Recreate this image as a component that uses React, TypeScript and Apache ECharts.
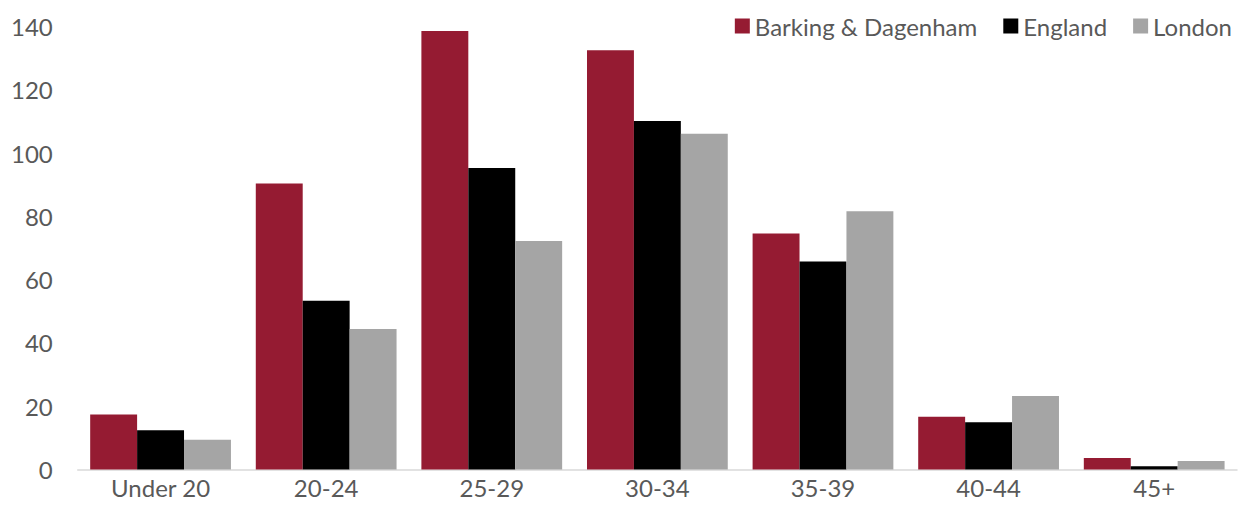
import React, { useEffect, useRef } from "react";
import * as echarts from "echarts";

const categories = ["Under 20", "20-24", "25-29", "30-34", "35-39", "40-44", "45+"];
const barkingDagenham = [17.4, 90.4, 138.6, 132.5, 74.6, 16.7, 3.6];
const england = [12.4, 53.3, 95.3, 110.1, 65.7, 14.9, 1.0];
const london = [9.4, 44.4, 72.2, 106.1, 81.6, 23.2, 2.7];
const yTicks = { min: 0, max: 140, interval: 20 };

const FONT = "Lato";
const TEXT = "#595959";
const FS = 24;

export default function App() {
  const ref = useRef<HTMLDivElement>(null);
  useEffect(() => {
    if (!ref.current) return;
    const chart = echarts.init(ref.current, undefined, { renderer: "svg" });
    const mk = (name: string, data: number[], color: string) => ({
      name,
      type: "bar",
      data,
      barGap: "0%",
      barCategoryGap: "15%",
      itemStyle: { color },
    });
    chart.setOption({
      animation: false,
      textStyle: { fontFamily: FONT },
      legend: {
        right: 8,
        top: 1,
        icon: "rect",
        itemWidth: 15,
        itemHeight: 15,
        itemGap: 26,
        textStyle: { color: TEXT, fontSize: FS, fontFamily: FONT },
        data: ["Barking & Dagenham", "England", "London"],
      },
      grid: { left: 67, right: 8, top: 18.5, bottom: 36.5, containLabel: false },
      xAxis: {
        type: "category",
        data: categories,
        axisLine: { lineStyle: { color: "#D9D9D9", width: 1.5 } },
        axisTick: { show: false },
        axisLabel: { color: TEXT, fontSize: FS, fontFamily: FONT, margin: 6 },
      },
      yAxis: {
        type: "value",
        min: yTicks.min,
        max: yTicks.max,
        interval: yTicks.interval,
        splitLine: { show: false },
        axisLine: { show: false },
        axisTick: { show: false },
        axisLabel: { color: TEXT, fontSize: FS, fontFamily: FONT, margin: 25 },
      },
      series: [
        mk("Barking & Dagenham", barkingDagenham, "#951B32"),
        mk("England", england, "#000000"),
        mk("London", london, "#A5A5A5"),
      ],
    });
    return () => chart.dispose();
  }, []);
  return <div ref={ref} style={{ width: 1237, height: 498 }} />;
}
